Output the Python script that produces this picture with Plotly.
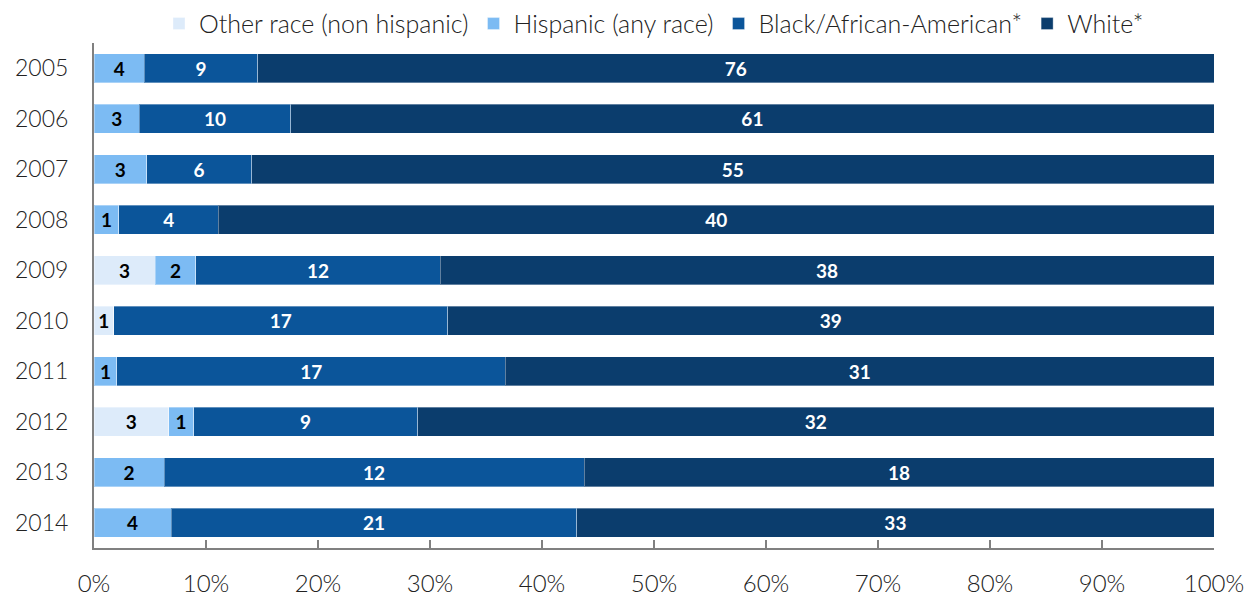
import plotly.graph_objects as go

years = ["2005", "2006", "2007", "2008", "2009", "2010", "2011", "2012", "2013", "2014"]
other = [0, 0, 0, 0, 3, 1, 0, 3, 0, 0]
hispanic = [4, 3, 3, 1, 2, 0, 1, 1, 2, 4]
black = [9, 10, 6, 4, 12, 17, 17, 9, 12, 21]
white = [76, 61, 55, 40, 38, 39, 31, 32, 18, 33]

series = [
    ("Other race (non hispanic)", other, "#DDEBFA", "black"),
    ("Hispanic (any race)", hispanic, "#7CBBF3", "black"),
    ("Black/African-American*", black, "#0B559A", "white"),
    ("White*", white, "#0B3D6D", "white"),
]

FONT = "Lato"
fig = go.Figure()
for name, vals, color, tcolor in series:
    fig.add_trace(go.Bar(
        y=years, x=vals, name=name, orientation="h",
        marker=dict(color=color, line=dict(color="rgba(255,255,255,0.35)", width=1)),
        text=[str(v) if v else "" for v in vals],
        textposition="inside", insidetextanchor="middle", textangle=0,
        constraintext="none",
        textfont=dict(color=tcolor, size=19, family=FONT, weight="bold"),
        hoverinfo="x+y+name",
    ))

fig.update_layout(
    width=1254, height=596,
    barmode="stack", barnorm="percent", bargap=0.43,
    margin=dict(l=94, r=40, t=43, b=48, autoexpand=False),
    plot_bgcolor="white", paper_bgcolor="white",
    font=dict(family=FONT, size=22, color="#222222"),
    uniformtext=dict(minsize=19, mode="show"),
    legend=dict(orientation="h", x=0.5, xanchor="center",
                yref="container", y=0.96, yanchor="middle",
                font=dict(size=25, family=FONT, weight=300), traceorder="normal",
                itemwidth=30, tracegroupgap=0),
    showlegend=True,
)
fig.update_xaxes(
    range=[0, 100], dtick=10, ticksuffix="%", showgrid=False,
    showline=True, linecolor="#808080", linewidth=2,
    ticks="inside", ticklen=8, tickcolor="#808080", tickwidth=2,
    ticklabelstandoff=13, tickfont=dict(size=24, family=FONT, weight=300),
    zeroline=False, fixedrange=True,
)
fig.update_yaxes(
    categoryorder="array", categoryarray=years, autorange="reversed",
    showline=True, linecolor="#808080", linewidth=2, showgrid=False,
    ticks="", ticklabelstandoff=19, tickfont=dict(size=23, family=FONT, weight=300),
    fixedrange=True,
)

fig.write_html("out.html")
